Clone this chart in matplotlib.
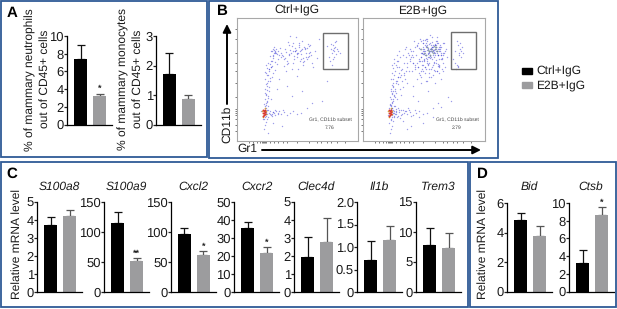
import matplotlib
matplotlib.use('Agg')
import matplotlib.pyplot as plt
from matplotlib.patches import Rectangle

plt.rcParams['font.family'] = ['Liberation Sans', 'DejaVu Sans']
plt.rcParams['text.hinting'] = 'no_hinting'
plt.rcParams['text.hinting_factor'] = 1

W, H = 617, 309
BLACK = '#000000'
GREY = '#9c9c9e'
FRAME = '#2f5a96'

# bar panels: means and upper error ends
s100a8 = [3.7, 4.25]
s100a8_err = [4.15, 4.55]
s100a9 = [115, 52]
s100a9_err = [133, 56]
cxcl2 = [96, 62]
cxcl2_err = [107, 68]
cxcr2 = [35.3, 21.8]
cxcr2_err = [39, 24.8]
clec4d = [1.95, 2.8]
clec4d_err = [3.05, 4.1]
il1b = [0.72, 1.15]
il1b_err = [1.13, 1.47]
trem3 = [7.8, 7.4]
trem3_err = [10.6, 9.9]
bid = [4.85, 3.75]
bid_err = [5.35, 4.45]
ctsb = [3.2, 8.6]
ctsb_err = [4.65, 9.5]
neutro = [7.4, 3.25]
neutro_err = [9.0, 3.5]
mono = [1.7, 0.85]
mono_err = [2.43, 1.0]

# flow plot events, Ctrl+IgG
ctrl_x = [27,28,29,27,30,28,29,31,27,28,30,29,32,28,27,30,33,29,28,31,27,29,30,28,34,31,29,32,28,30,
          33,36,38,41,44,47,50,53,56,60,64,38,42,35,46,70,
          30,33,28,35,31,29,36,32,38,30,34,29,31,42,50,
          33,35,36,37,38,38,39,37,40,36,34,41,39,42,35,33,44,38,37,32,34,36,41,43,40,
          46,48,50,52,54,56,58,60,62,64,66,68,70,72,74,76,78,80,47,51,55,59,63,67,71,75,53,57,61,65,69,73,49,60,70,82,
          44,47,52,58,62,66,72,56,64,50,
          92,94,95,96,97,98,99,100,93,96,98,101,95,94,97,99,90,103,96,97,
          55,65,75,40,45,85,90,60,36,24,26,31,
          28,29,30,31,29,28,30,32,29,31,33,30,28,32,34,29,31,35,36,34,37,39,41,36,38,35,
          45,49,53,57,61,65,69,73,48,52,56,60,64,68,72,63,67,59,55,51,71,62,66,58]
ctrl_y = [12,16,19,22,22,24,25,24,26,27,27,28,28,30,31,31,30,33,35,35,37,38,40,42,42,45,47,50,52,55,
          27,29,26,28,27,29,26,28,30,27,28,31,30,25,31,33,
          58,60,62,64,66,68,68,70,71,73,74,76,78,62,55,
          77,80,85,88,89,90,88,91,87,83,80,90,92,86,75,85,84,79,94,72,90,92,82,93,77,
          85,92,80,96,88,78,93,84,98,87,76,92,82,95,86,74,90,83,75,99,72,104,90,80,97,78,105,82,72,100,88,96,70,88,93,102,
          88,82,87,90,94,83,88,98,91,77,
          84,92,88,96,90,94,87,92,80,82,99,90,76,97,84,100,95,88,91,93,
          45,50,38,52,15,40,60,65,18,30,22,8,
          33,36,39,43,46,48,51,54,57,60,63,66,69,72,74,29,31,27,29,26,28,30,27,86,88,90,
          86,89,91,85,88,92,84,89,83,86,90,87,82,93,85,80,94,91,95,78,84,96,79,90]

# flow plot events, E2B+IgG
e2b_x = [27,28,29,26,30,28,29,31,27,28,30,29,32,28,27,30,33,29,28,31,27,29,30,28,34,31,29,32,28,30,26,27,29,25,31,28,
         33,36,38,41,44,47,50,53,56,60,64,38,42,35,46,70,34,37,40,43,48,52,35,39,33,36,45,56,
         30,33,28,35,31,29,36,32,38,30,34,29,31,42,50,33,37,40,35,32,39,41,36,43,34,30,38,44,
         33,35,37,39,41,43,45,47,36,40,44,48,38,42,46,50,34,41,47,52,31,37,43,49,
         48,50,52,54,56,58,60,49,53,57,61,51,55,59,47,50,54,58,46,52,56,60,44,62,64,
         58,60,62,64,66,68,70,72,74,76,78,80,59,61,63,65,67,69,71,73,75,77,79,
         60,62,64,66,68,70,72,74,76,78,61,63,65,67,69,71,73,75,77,56,58,82,84,
         62,64,66,68,70,72,74,76,63,65,67,69,71,73,75,60,78,80,59,81,
         64,66,68,70,72,74,65,67,69,71,73,62,76,58,80,83,
         54,58,62,66,70,74,78,55,60,64,68,72,76,82,57,63,
         90,92,94,95,96,97,98,99,93,96,98,94,95,97,92,100,
         50,55,65,75,85,95,60,70,48,78,44,88,58,40,66,
         28,29,30,27,31,29,28,32,30,29,33,31,28,34,30,32,29,35,31,33,
         60,63,66,69,72,75,78,62,65,68,71,74,77,61,64,67,70,73,76,59,63,66,69,72,75,79,
         61,64,67,70,73,76,62,65,68,71,74,60,63,66,69,72,75,78,57,80,
         55,57,59,61,63,65,67,69,71,73,75,77,79,81,56,60,64,68,72,76,80,52,54,50]
e2b_y = [8,12,15,18,20,22,24,25,26,27,28,29,27,30,31,31,30,33,35,35,37,38,40,42,42,45,47,50,52,55,33,36,33,26,24,21,
         27,29,26,28,27,29,26,28,30,27,28,31,30,25,31,33,24,23,31,30,25,31,33,27,29,31,33,24,
         58,60,62,64,66,68,68,70,71,73,74,76,78,62,55,48,52,54,57,44,60,66,74,70,80,50,46,58,
         76,80,84,72,78,84,88,80,90,86,74,90,66,92,70,78,86,68,82,74,82,64,94,86,
         84,90,76,95,82,88,98,70,86,80,92,100,74,88,92,78,96,84,86,72,68,90,78,96,82,
         84,94,88,100,78,92,96,86,104,90,82,88,76,90,98,84,106,94,78,100,86,94,82,
         92,86,96,90,84,94,88,98,92,86,82,94,88,98,92,84,90,86,96,80,100,90,84,
         90,94,88,92,86,96,90,94,86,92,90,94,88,92,86,76,88,78,72,98,
         91,89,93,90,92,88,87,92,89,91,94,74,82,70,70,92,
         62,64,68,72,66,70,62,74,70,60,64,58,68,74,66,60,
         82,90,76,96,88,92,84,94,72,86,90,100,74,98,78,88,
         45,40,50,38,44,75,18,24,15,34,12,40,58,20,64,
         36,39,42,44,46,48,50,52,54,56,58,30,32,60,62,35,26,64,28,32,
         98,95,97,99,96,98,94,101,93,96,89,100,92,87,102,85,91,78,76,80,83,84,74,97,77,72,
         80,78,83,76,81,74,74,77,72,79,70,87,72,68,82,70,75,86,92,86,
         98,102,88,81,102,76,86,104,71,96,92,90,83,88,93,101,80,90,94,75,98,94,78,84]

dense_x = [58,61,64,66,68,70,72,74,63,67,71,65,69,73]
dense_y = [92,88,94,90,92,88,92,90,86,86,95,91,90,94]
hot_x = [26,27,28,26,27,28,27,26,28]
hot_y = [25,26,27,28,28,29,30,31,31]
warm_x = [29,25,29,28,26]
warm_y = [27,30,30,33,24]

fig = plt.figure(figsize=(W / 100, H / 100), dpi=100, facecolor='white')


def px_axes(left, top, right, bottom):
    return fig.add_axes([left / W, 1 - bottom / H, (right - left) / W, (bottom - top) / H])


def label(x, y, s, **kw):
    kw.setdefault('ha', 'center')
    kw.setdefault('va', 'center')
    kw.setdefault('fontsize', 8.7)
    kw.setdefault('color', '#1a1a1a')
    fig.text(x / W, 1 - y / H, s, **kw)


def bars(left, top, bottom, vals, errs, ymax, ticks, ticklabels=None, star=None, size=9):
    ax = px_axes(left, top, left + 45, bottom)
    ax.patch.set_alpha(0)
    unit = 19
    ax.set_xlim(-13.5 / unit, 31.5 / unit)
    ax.set_ylim(0, ymax)
    ax.bar([0, 1], vals, width=13.5 / unit, color=[BLACK, GREY], zorder=2)
    for i, c in enumerate(['#111111', '#555555']):
        ax.errorbar(i, vals[i], yerr=[[0], [errs[i] - vals[i]]], color=c, lw=0.9,
                    capsize=2.6, capthick=0.9, zorder=1)
    ax.set_xticks([])
    ax.set_yticks(ticks)
    ax.set_yticklabels(ticklabels if ticklabels else [str(t) for t in ticks], fontsize=size, color='#1a1a1a')
    ax.tick_params(axis='y', length=2, width=0.9, pad=0.2, color='#222222')
    ax.spines['top'].set_visible(False)
    ax.spines['right'].set_visible(False)
    ax.spines['left'].set_linewidth(0.9)
    ax.spines['bottom'].set_linewidth(0.9)
    if star:
        ax.text(1, errs[1] + ymax * 0.005, star, ha='center', va='bottom', fontsize=6.5,
                fontweight='bold', color='#222222')
    return ax


# panel A
bars(67, 36, 124.5, neutro, neutro_err, 10, [0, 2, 4, 6, 8, 10], star='*')
bars(156, 36, 124.5, mono, mono_err, 3, [0, 1, 2, 3])
label(30, 80, '% of mammary neutrophils', rotation=90)
label(45, 79, 'out of CD45+ cells', rotation=90)
label(123, 79, '% of mammary monocytes', rotation=90)
label(138, 79, 'out of CD45+ cells', rotation=90)

# panel C
bars(37, 202, 292, s100a8, s100a8_err, 5, [0, 1, 2, 3, 4, 5])
bars(104, 202, 292, s100a9, s100a9_err, 150, [0, 50, 100, 150], star='**')
bars(171, 202, 292, cxcl2, cxcl2_err, 150, [0, 50, 100, 150], star='*')
bars(234, 202, 292, cxcr2, cxcr2_err, 50, [0, 10, 20, 30, 40, 50], star='*')
bars(294, 202, 292, clec4d, clec4d_err, 5, [0, 1, 2, 3, 4, 5])
bars(357, 202, 292, il1b, il1b_err, 2.0, [0, 0.5, 1.0, 1.5, 2.0], ['0', '0.5', '1.0', '1.5', '2.0'])
bars(416, 202, 292, trem3, trem3_err, 15, [0, 5, 10, 15])
label(17, 244, 'Relative mRNA level', rotation=90)
genes_c = ['S100a8', 'S100a9', 'Cxcl2', 'Cxcr2', 'Clec4d', 'Il1b', 'Trem3']
for xc, g in zip([59, 126, 193, 257, 316, 379, 438], genes_c):
    label(xc, 187, g, style='italic')

# panel D
bars(507, 203, 291.5, bid, bid_err, 6, [0, 2, 4, 6])
bars(569, 203, 291.5, ctsb, ctsb_err, 10, [0, 2, 4, 6, 8, 10], star='*')
label(483, 244, 'Relative mRNA level', rotation=90)
label(529, 187, 'Bid', style='italic')
label(591, 187, 'Ctsb', style='italic')


# panel B
def flow(left, right, xs, ys, gate, line1, line2, text_x):
    ax = px_axes(left, 18, right, 141)
    ax.set_xlim(0, right - left)
    ax.set_ylim(0, 123)
    ax.scatter(xs, ys, s=1.0, color='#3a3ad6', alpha=0.5, linewidths=0, zorder=2)
    ax.scatter(hot_x, hot_y, s=2.0, color='#d8382c', linewidths=0, zorder=4)
    ax.scatter(warm_x, warm_y, s=1.4, color='#d9a53a', linewidths=0, zorder=3)
    ax.add_patch(Rectangle((gate[0], gate[2]), gate[1] - gate[0], gate[3] - gate[2], fill=False,
                           ec='#6e6e6e', lw=1.0, zorder=5))
    ax.set_xticks([12, 16, 20, 23, 25, 26, 27, 28, 29, 33, 37, 41, 46, 50, 60, 72, 80, 84, 90, 94, 100, 108])
    ax.set_yticks([10, 16, 22, 26, 28, 30, 32, 44, 58, 70, 78, 88, 102, 112])
    ax.set_xticklabels([])
    ax.set_yticklabels([])
    ax.tick_params(length=1.6, width=0.5, color='#444444', direction='out', pad=1)
    for s in ax.spines.values():
        s.set_color('#a8a8a8')
        s.set_linewidth(0.8)
    label(text_x, 120, line1, fontsize=3.6, color='#444444')
    label(text_x, 128, line2, fontsize=3.6, color='#444444')


flow(237, 358, ctrl_x, ctrl_y, (86, 111, 72, 108), 'Gr1, CD11b subset', '7.76', 330)
flow(363, 485, e2b_x, e2b_y, (88, 113, 72, 109), 'Gr1, CD11b subset', '2.79', 457)
ax2 = fig.axes[-1]
ax2.scatter(dense_x, dense_y, s=1.6, color='#7f9a8c', alpha=0.8, linewidths=0, zorder=3)

label(297, 10, 'Ctrl+IgG')
label(423, 10, 'E2B+IgG')
label(227, 124, 'CD11b', rotation=90)
label(247, 149, 'Gr1')

overlay = fig.add_axes([0, 0, 1, 1], zorder=10)
overlay.set_xlim(0, W)
overlay.set_ylim(H, 0)
overlay.axis('off')
overlay.annotate('', xy=(227, 24), xytext=(227, 104),
                 arrowprops=dict(arrowstyle='-|>', color='black', lw=1.4, mutation_scale=12, shrinkA=0, shrinkB=0))
overlay.annotate('', xy=(481, 150), xytext=(262, 150),
                 arrowprops=dict(arrowstyle='-|>', color='black', lw=1.4, mutation_scale=12, shrinkA=0, shrinkB=0))

# panel frames
frames = [(1, 1, 207, 157), (209, 1, 498, 158), (1, 162, 468, 307), (470, 162, 616, 307)]
for x0, y0, x1, y1 in frames:
    overlay.add_patch(Rectangle((x0, y0), x1 - x0, y1 - y0, fill=False, ec=FRAME, lw=1.3))

# legend
overlay.add_patch(Rectangle((522, 68), 10, 5.5, color=BLACK))
overlay.add_patch(Rectangle((522, 82), 10, 5.5, color=GREY))
label(536, 71, 'Ctrl+IgG', ha='left')
label(536, 85, 'E2B+IgG', ha='left')

# panel letters
label(12, 13, 'A', fontweight='bold', fontsize=10.5, color='black')
label(222, 11, 'B', fontweight='bold', fontsize=10.5, color='black')
label(12, 174, 'C', fontweight='bold', fontsize=10.5, color='black')
label(482, 174, 'D', fontweight='bold', fontsize=10.5, color='black')

fig.savefig('out.png', dpi=100)
